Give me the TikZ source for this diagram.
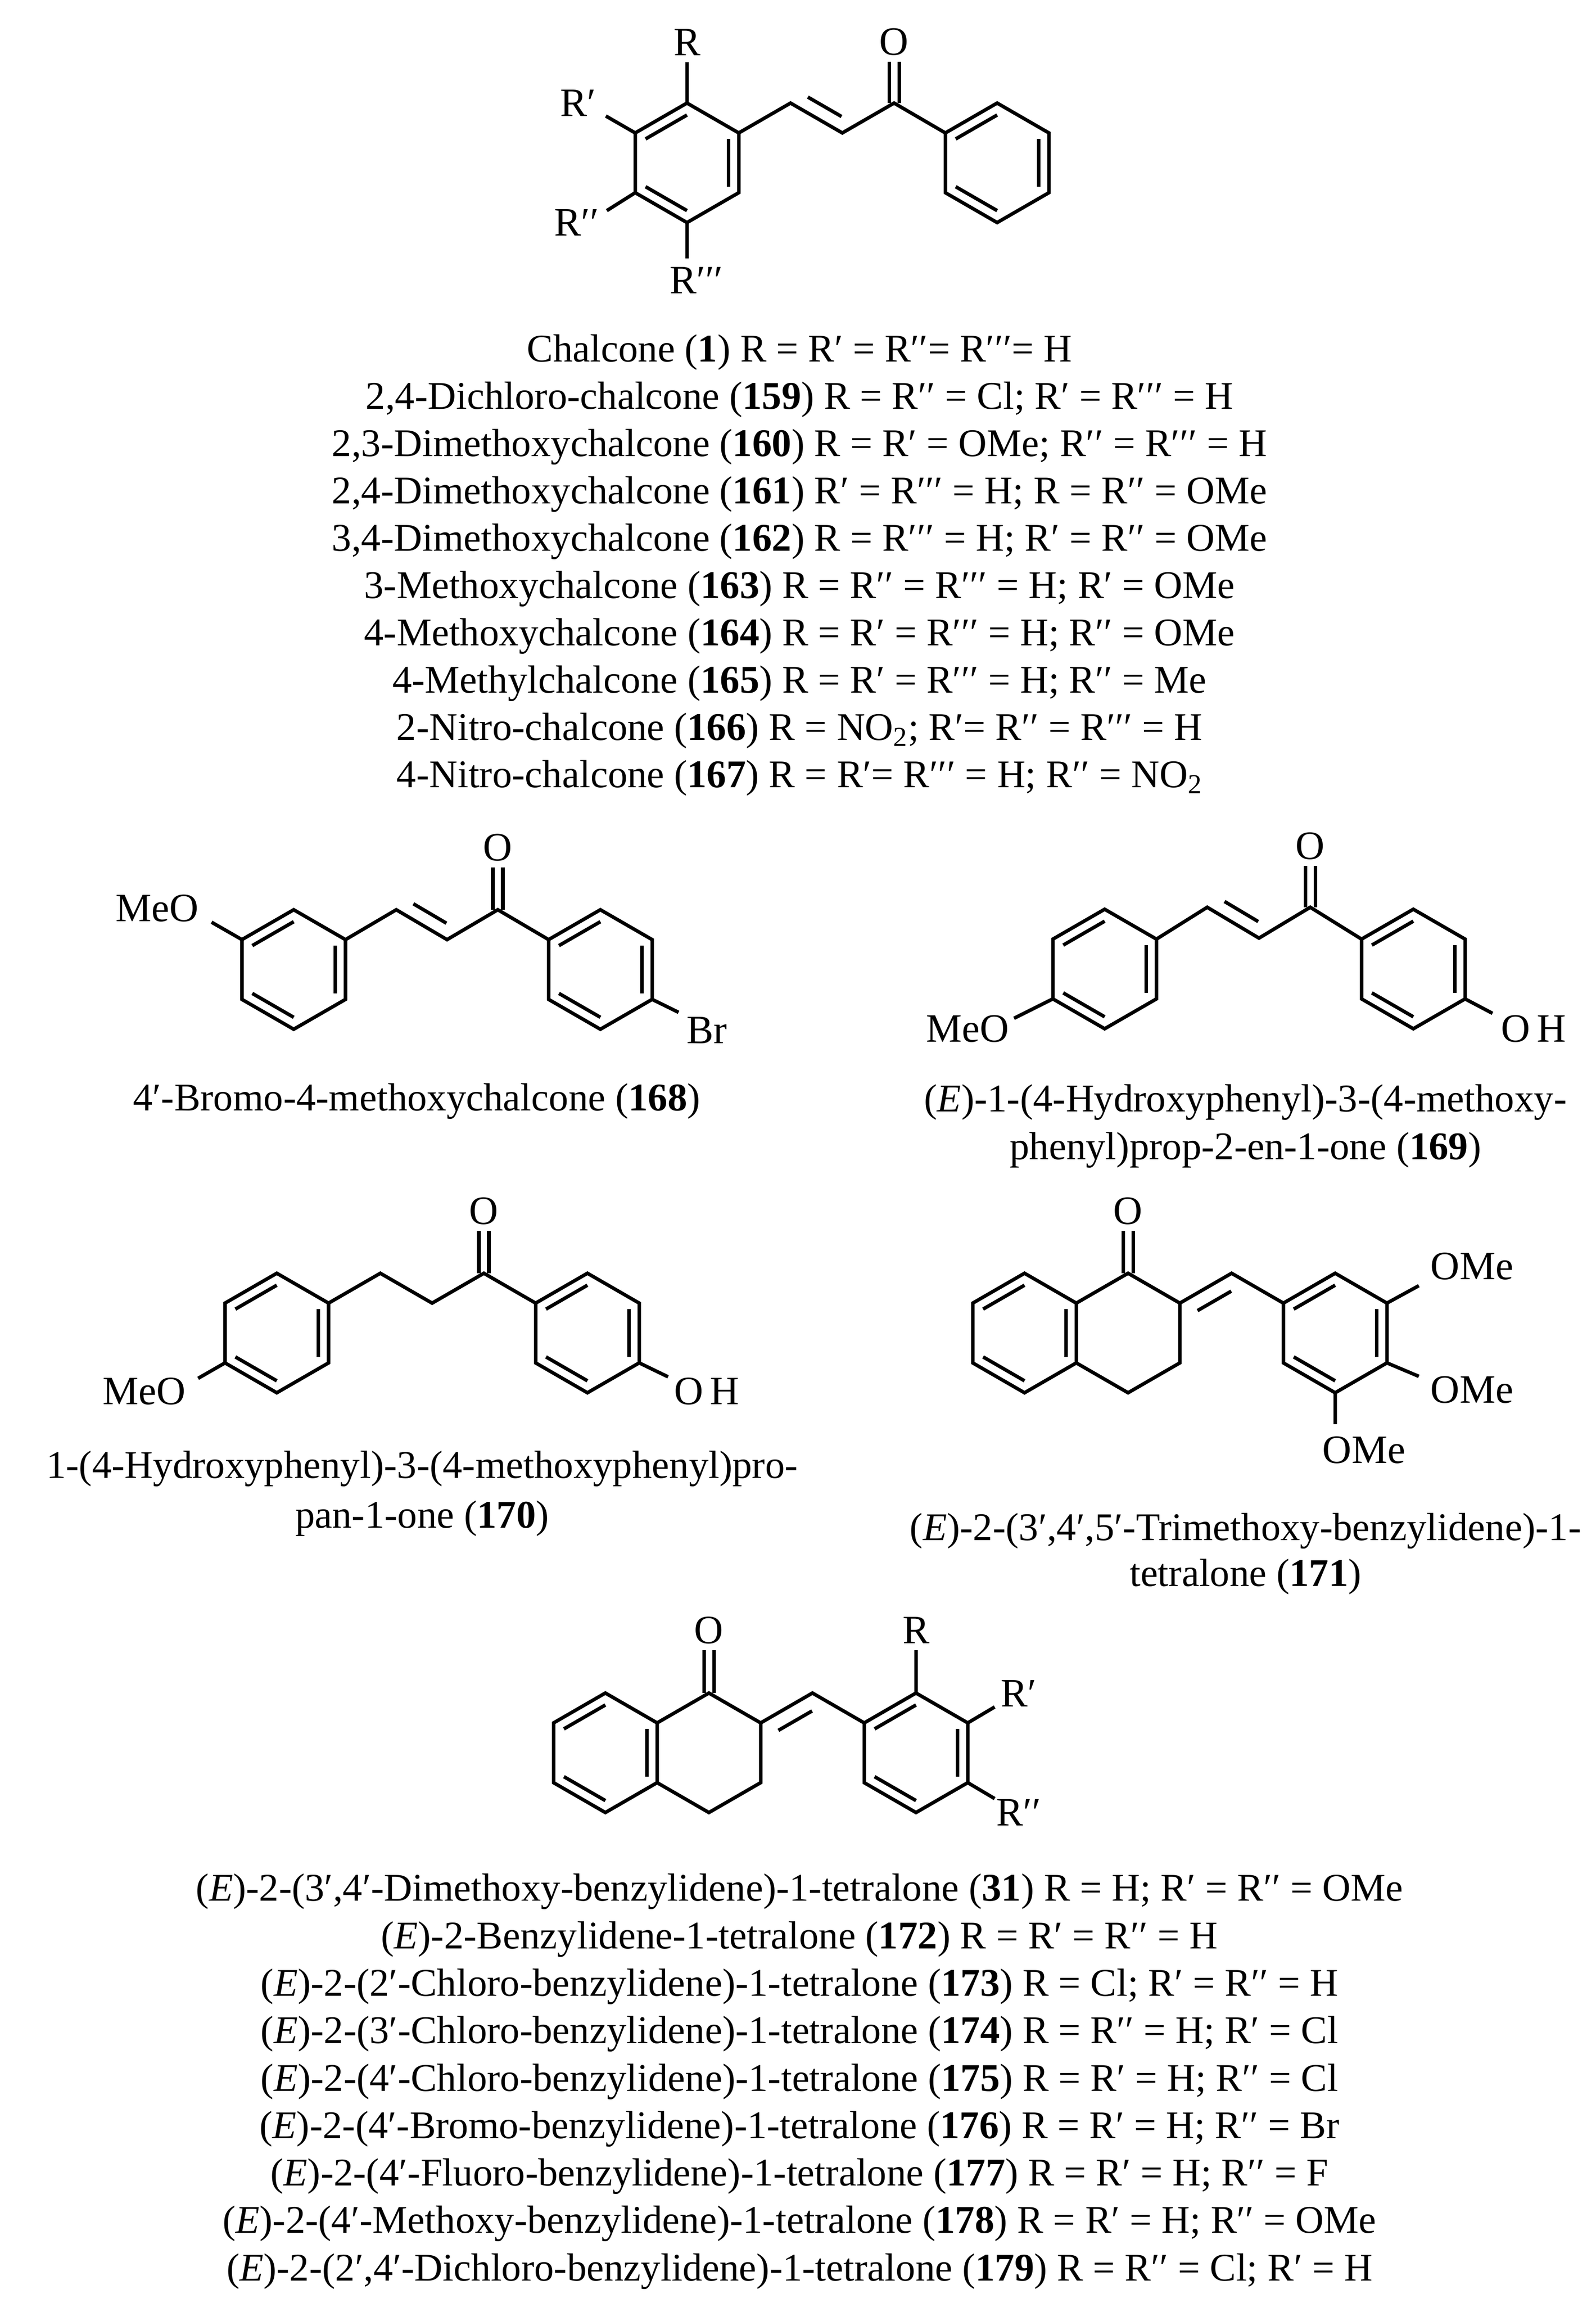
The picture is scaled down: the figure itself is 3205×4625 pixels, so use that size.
\documentclass[tikz,border=0pt]{standalone}
\usepackage{fontspec}
\setmainfont{Liberation Serif}
\usetikzlibrary{calc}
\newcommand\hexring[3]{%
  \coordinate (#1-c) at (#2,#3);
  \coordinate (#1-1) at (#2,{#3-120});
  \coordinate (#1-2) at ({#2+104},{#3-60});
  \coordinate (#1-3) at ({#2+104},{#3+60});
  \coordinate (#1-4) at (#2,{#3+120});
  \coordinate (#1-5) at ({#2-104},{#3+60});
  \coordinate (#1-6) at ({#2-104},{#3-60});
  \draw[bond] (#1-1)--(#1-2)--(#1-3)--(#1-4)--(#1-5)--(#1-6)--cycle;}
\newcommand\dbin[3]{\draw[bond] ($(#2)!0.2!(#1)$) -- ($(#3)!0.2!(#1)$);}
\begin{document}
\begin{tikzpicture}[x=0.01cm,y=-0.01cm,
  bond/.style={line width=2pt,line join=miter,line cap=butt},
  lbl/.style={font=\fontsize{23}{26}\selectfont,inner sep=0pt},
  txt/.style={font=\fontsize{22.4}{26}\selectfont,inner sep=0pt,anchor=center}]
\useasboundingbox (0,0) rectangle (3205,4625);
% ---------- Chalcone general
\hexring{a}{1380}{327}
\dbin{a-c}{a-1}{a-6}\dbin{a-c}{a-2}{a-3}\dbin{a-c}{a-5}{a-4}
\hexring{b}{2003}{327}
\dbin{b-c}{b-6}{b-1}\dbin{b-c}{b-2}{b-3}\dbin{b-c}{b-5}{b-4}
\coordinate (c1) at (1588,207); \coordinate (c2) at (1692,267); \coordinate (c3) at (1796,207);
\draw[bond] (a-2)--(c1)--(c2)--(c3)--(b-6);
\draw[bond] ($(c1)!0.2!(c2)+(14,-24)$)--($(c1)!0.85!(c2)+(14,-24)$);
\node[lbl] (o1) at (1796,84) {O};
\draw[bond] ($(c3)+(-10,0)$)--($(o1.south)+(-10,12)$) ($(c3)+(10,0)$)--($(o1.south)+(10,12)$);
\node[lbl] (r1) at (1380,85) {R};
\node[lbl] (r2) at (1161,207) {R′};
\node[lbl] (r3) at (1158,447) {R′′};
\node[lbl] (r4) at (1399,563) {R′′′};
\coordinate (r1b) at (1380,125); \coordinate (r2b) at (1217,233);
\coordinate (r3b) at (1219,423); \coordinate (r4b) at (1380,519);
\draw[bond] (a-1)--(r1b) (a-6)--(r2b) (a-5)--(r3b) (a-4)--(r4b);
\foreach \t [count=\i from 0] in {%
 {Chalcone (\textbf{1}) R = R′ = R′′= R′′′= H},
 {2,4-Dichloro-chalcone (\textbf{159}) R = R′′ = Cl; R′ = R′′′ = H},
 {2,3-Dimethoxychalcone (\textbf{160}) R = R′ = OMe; R′′ = R′′′ = H},
 {2,4-Dimethoxychalcone (\textbf{161}) R′ = R′′′ = H; R = R′′ = OMe},
 {3,4-Dimethoxychalcone (\textbf{162}) R = R′′′ = H; R′ = R′′ = OMe},
 {3-Methoxychalcone (\textbf{163}) R = R′′ = R′′′ = H; R′ = OMe},
 {4-Methoxychalcone (\textbf{164}) R = R′ = R′′′ = H; R′′ = OMe},
 {4-Methylchalcone (\textbf{165}) R = R′ = R′′′ = H; R′′ = Me},
 {2-Nitro-chalcone (\textbf{166}) R = NO\textsubscript{2}; R′= R′′ = R′′′ = H},
 {4-Nitro-chalcone (\textbf{167}) R = R′= R′′′ = H; R′′ = NO\textsubscript{2}}}
 \node[txt] (t1\i) at (1606,{708+95*\i}) {\t};
% ---------- 168
\hexring{d}{590}{1947}
\dbin{d-c}{d-6}{d-1}\dbin{d-c}{d-2}{d-3}\dbin{d-c}{d-5}{d-4}
\hexring{e}{1206}{1947}
\dbin{e-c}{e-6}{e-1}\dbin{e-c}{e-2}{e-3}\dbin{e-c}{e-5}{e-4}
\coordinate (d1) at (796,1827); \coordinate (d2) at (898,1887); \coordinate (d3) at (1000,1827);
\draw[bond] (d-2)--(d1)--(d2)--(d3)--(e-6);
\draw[bond] ($(d1)!0.2!(d2)+(14,-24)$)--($(d1)!0.85!(d2)+(14,-24)$);
\node[lbl] (o2) at (1000,1702) {O};
\draw[bond] ($(d3)+(-10,0)$)--($(o2.south)+(-10,12)$) ($(d3)+(10,0)$)--($(o2.south)+(10,12)$);
\node[lbl] (meo2) at (316,1824) {MeO};
\coordinate (meo2b) at (425,1852);
\draw[bond] (d-6)--(meo2b);
\node[lbl] (br) at (1420,2069) {Br};
\coordinate (brb) at (1363,2033);
\draw[bond] (e-3)--(brb);
\node[txt] (t168) at (837,2212) {4′-Bromo-4-methoxychalcone (\textbf{168})};
% ---------- 169
\hexring{f}{2219}{1946}
\dbin{f-c}{f-6}{f-1}\dbin{f-c}{f-2}{f-3}\dbin{f-c}{f-5}{f-4}
\hexring{g}{2839}{1946}
\dbin{g-c}{g-6}{g-1}\dbin{g-c}{g-2}{g-3}\dbin{g-c}{g-5}{g-4}
\coordinate (f1) at (2425,1822); \coordinate (f2) at (2529,1884); \coordinate (f3) at (2632,1822);
\draw[bond] (f-2)--(f1)--(f2)--(f3)--(g-6);
\draw[bond] ($(f1)!0.2!(f2)+(14,-24)$)--($(f1)!0.85!(f2)+(14,-24)$);
\node[lbl] (o3) at (2632,1699) {O};
\draw[bond] ($(f3)+(-10,0)$)--($(o3.south)+(-10,12)$) ($(f3)+(10,0)$)--($(o3.south)+(10,12)$);
\node[lbl] (meo3) at (1944,2066) {MeO};
\coordinate (meo3b) at (2037,2045);
\draw[bond] (f-5)--(meo3b);
\node[lbl] (oh3) at (3081,2066) {O\,H};
\coordinate (oh3b) at (2998,2035);
\draw[bond] (g-3)--(oh3b);
\node[txt] (t169a) at (2502,2214) {(\textit{E})-1-(4-Hydroxyphenyl)-3-(4-methoxy-};
\node[txt] (t169b) at (2502,2310) {phenyl)prop-2-en-1-one (\textbf{169})};
% ---------- 170
\hexring{h}{556}{2677}
\dbin{h-c}{h-6}{h-1}\dbin{h-c}{h-2}{h-3}\dbin{h-c}{h-5}{h-4}
\hexring{i}{1180}{2677}
\dbin{i-c}{i-6}{i-1}\dbin{i-c}{i-2}{i-3}\dbin{i-c}{i-5}{i-4}
\coordinate (h1) at (764,2557); \coordinate (h2) at (868,2617); \coordinate (h3) at (972,2557);
\draw[bond] (h-2)--(h1)--(h2)--(h3)--(i-6);
\node[lbl] (o4) at (972,2432) {O};
\draw[bond] ($(h3)+(-10,0)$)--($(o4.south)+(-10,12)$) ($(h3)+(10,0)$)--($(o4.south)+(10,12)$);
\node[lbl] (meo4) at (290,2794) {MeO};
\coordinate (meo4b) at (398,2768);
\draw[bond] (h-5)--(meo4b);
\node[lbl] (oh4) at (1420,2794) {O\,H};
\coordinate (oh4b) at (1342,2765);
\draw[bond] (i-3)--(oh4b);
\node[txt] (t170a) at (848,2950) {1-(4-Hydroxyphenyl)-3-(4-methoxyphenyl)pro-};
\node[txt] (t170b) at (848,3050) {pan-1-one (\textbf{170})};
% ---------- 171
\hexring{j}{2058}{2677}
\dbin{j-c}{j-6}{j-1}\dbin{j-c}{j-2}{j-3}\dbin{j-c}{j-5}{j-4}
\coordinate (k-c) at (2266,2677);
\coordinate (k1) at (2266,2557); \coordinate (k2) at (2370,2617);
\coordinate (k3) at (2370,2737); \coordinate (k4) at (2266,2797);
\draw[bond] (j-2)--(k1)--(k2)--(k3)--(k4)--(j-3);
\node[lbl] (o5) at (2266,2432) {O};
\draw[bond] ($(k1)+(-10,0)$)--($(o5.south)+(-10,12)$) ($(k1)+(10,0)$)--($(o5.south)+(10,12)$);
\coordinate (k5) at (2474,2557);
\hexring{l}{2682}{2677}
\dbin{l-c}{l-6}{l-1}\dbin{l-c}{l-2}{l-3}\dbin{l-c}{l-5}{l-4}
\draw[bond] (k2)--(k5)--(l-6);
\draw[bond] ($(k2)!0.15!(k5)+(20,24)$)--($(k2)!0.8!(k5)+(20,24)$);
\node[lbl] (ome1) at (2957,2543) {OMe};
\node[lbl] (ome2) at (2957,2791) {OMe};
\node[lbl] (ome3) at (2740,2912) {OMe};
\coordinate (ome1b) at (2850,2582); \coordinate (ome2b) at (2850,2764);
\coordinate (ome3b) at (2682,2860);
\draw[bond] (l-2)--(ome1b) (l-3)--(ome2b) (l-4)--(ome3b);
\node[txt] (t171a) at (2502,3075) {(\textit{E})-2-(3′,4′,5′-Trimethoxy-benzylidene)-1-};
\node[txt] (t171b) at (2502,3167) {tetralone (\textbf{171})};
% ---------- bottom tetralone
\hexring{m}{1216}{3520}
\dbin{m-c}{m-6}{m-1}\dbin{m-c}{m-2}{m-3}\dbin{m-c}{m-5}{m-4}
\coordinate (n1) at (1424,3400); \coordinate (n2) at (1528,3460);
\coordinate (n3) at (1528,3580); \coordinate (n4) at (1424,3640);
\draw[bond] (m-2)--(n1)--(n2)--(n3)--(n4)--(m-3);
\node[lbl] (o6) at (1424,3274) {O};
\draw[bond] ($(n1)+(-10,0)$)--($(o6.south)+(-10,12)$) ($(n1)+(10,0)$)--($(o6.south)+(10,12)$);
\coordinate (n5) at (1632,3400);
\hexring{p}{1840}{3520}
\dbin{p-c}{p-6}{p-1}\dbin{p-c}{p-2}{p-3}\dbin{p-c}{p-5}{p-4}
\draw[bond] (n2)--(n5)--(p-6);
\draw[bond] ($(n2)!0.15!(n5)+(20,24)$)--($(n2)!0.8!(n5)+(20,24)$);
\node[lbl] (s1) at (1840,3274) {R};
\node[lbl] (s2) at (2046,3401) {R′};
\node[lbl] (s3) at (2046,3640) {R′′};
\coordinate (s1b) at (1840,3314); \coordinate (s2b) at (1998,3428);
\coordinate (s3b) at (1998,3612);
\draw[bond] (p-1)--(s1b) (p-2)--(s2b) (p-3)--(s3b);
\foreach \t [count=\i from 0] in {%
 {(\textit{E})-2-(3′,4′-Dimethoxy-benzylidene)-1-tetralone (\textbf{31}) R = H; R′ = R′′ = OMe},
 {(\textit{E})-2-Benzylidene-1-tetralone (\textbf{172}) R = R′ = R′′ = H},
 {(\textit{E})-2-(2′-Chloro-benzylidene)-1-tetralone (\textbf{173}) R = Cl; R′ = R′′ = H},
 {(\textit{E})-2-(3′-Chloro-benzylidene)-1-tetralone (\textbf{174}) R = R′′ = H; R′ = Cl},
 {(\textit{E})-2-(4′-Chloro-benzylidene)-1-tetralone (\textbf{175}) R = R′ = H; R′′ = Cl},
 {(\textit{E})-2-(4′-Bromo-benzylidene)-1-tetralone (\textbf{176}) R = R′ = H; R′′ = Br},
 {(\textit{E})-2-(4′-Fluoro-benzylidene)-1-tetralone (\textbf{177}) R = R′ = H; R′′ = F},
 {(\textit{E})-2-(4′-Methoxy-benzylidene)-1-tetralone (\textbf{178}) R = R′ = H; R′′ = OMe},
 {(\textit{E})-2-(2′,4′-Dichloro-benzylidene)-1-tetralone (\textbf{179}) R = R′′ = Cl; R′ = H}}
 \node[txt] (t2\i) at (1606,{3799+95.3*\i}) {\t};
\end{tikzpicture}
\end{document}
